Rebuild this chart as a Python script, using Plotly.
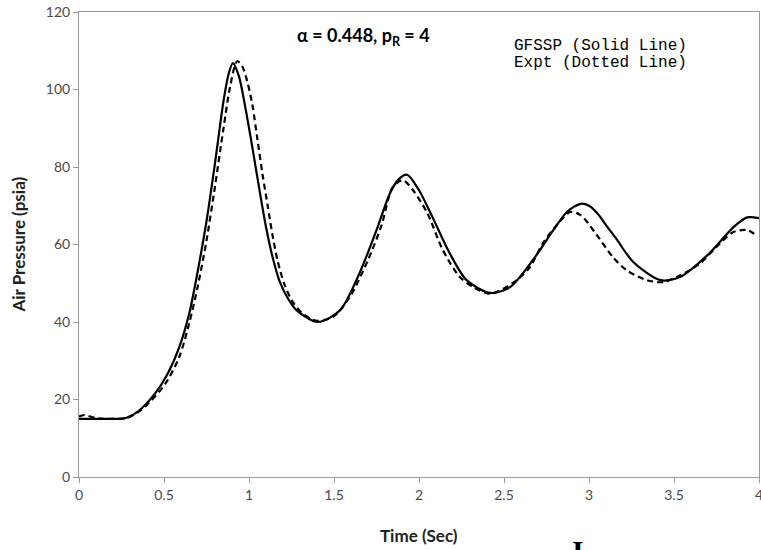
import plotly.graph_objects as go

# GFSSP (solid line)
t_gfssp = [0, 0.1, 0.2, 0.28, 0.35, 0.45, 0.52, 0.59, 0.65, 0.70, 0.75, 0.80, 0.85, 0.88,
           0.905, 0.94, 0.98, 1.02, 1.06, 1.10, 1.14, 1.18, 1.23, 1.28, 1.405, 1.535, 1.65,
           1.75, 1.83, 1.88, 1.93, 2.0, 2.08, 2.18, 2.28, 2.42, 2.535, 2.67, 2.79, 2.87,
           2.95, 3.0, 3.05, 3.1, 3.16, 3.26, 3.42, 3.535, 3.71, 3.85, 3.93, 4.0]
p_gfssp = [15, 15, 15, 15.3, 17, 21.7, 26.5, 33.5, 42.5, 53.5, 66, 81, 97, 104,
           106.8, 103.5, 95, 85, 74.5, 64.5, 56.5, 50.5, 46, 43, 40, 43, 52.6,
           63.7, 73.3, 76.8, 78, 74, 67, 57.8, 50.8, 47.5, 49, 56, 63.7, 68.4,
           70.5, 70, 68, 65, 61.5, 55.5, 50.8, 51.6, 57.8, 64.5, 67, 66.8]

# Experiment (dotted line)
t_expt = [0, 0.03, 0.1, 0.2, 0.28, 0.35, 0.42, 0.51, 0.59, 0.65, 0.70, 0.75, 0.80, 0.85,
          0.89, 0.93, 0.96, 0.99, 1.02, 1.05, 1.08, 1.11, 1.14, 1.17, 1.21, 1.26, 1.32,
          1.4, 1.5, 1.6, 1.7, 1.78, 1.845, 1.905, 1.965, 2.05, 2.14, 2.24, 2.32, 2.42,
          2.55, 2.65, 2.73, 2.82, 2.89, 2.95, 3.045, 3.14, 3.22, 3.34, 3.44, 3.535, 3.65,
          3.75, 3.85, 3.93, 3.99]
p_expt = [15.6, 16, 15.2, 15, 15.2, 16.8, 19.5, 24.2, 31, 40, 49.5, 61, 75, 90,
          101, 107.3, 106, 102, 96, 87, 78, 70, 62, 55.5, 49.5, 45, 42,
          40.3, 41.5, 47, 56, 65, 74.8, 76.6, 74, 68, 58.6, 51.6, 49, 47.3,
          50, 54, 60.4, 65.5, 68.4, 67.6, 62.5, 56.8, 53.4, 50.8, 50.3, 52, 55,
          59.4, 63.2, 63.7, 62.2]

x_ticks = [0, 0.5, 1, 1.5, 2, 2.5, 3, 3.5, 4]
x_tick_labels = ["0", "0.5", "1", "1.5", "2", "2.5", "3", "3.5", "4"]
y_ticks = [0, 20, 40, 60, 80, 100, 120]

fig = go.Figure()
fig.add_trace(go.Scatter(x=t_gfssp, y=p_gfssp, mode="lines", name="GFSSP",
                         line=dict(color="black", width=2.2, shape="spline", smoothing=0.8)))
fig.add_trace(go.Scatter(x=t_expt, y=p_expt, mode="lines", name="Expt",
                         line=dict(color="black", width=2.2, dash="6px,4px", shape="spline", smoothing=0.8)))

axis_common = dict(showgrid=False, zeroline=False, showline=True, linecolor="#9a9a9a",
                   linewidth=1, mirror=True, ticks="outside", ticklen=5, tickcolor="#9a9a9a",
                   automargin=False, ticklabeloverflow="allow",
                   tickfont=dict(family="Lato", size=14, color="#4a4a4a"))

fig.update_layout(
    width=761, height=550,
    margin=dict(l=79, r=2, t=12, b=73),
    paper_bgcolor="white", plot_bgcolor="white",
    showlegend=False,
    xaxis=dict(range=[0, 4], tickvals=x_ticks, ticktext=x_tick_labels, **axis_common),
    yaxis=dict(range=[0, 120], tickvals=y_ticks, **axis_common),
)

# helpers: pixel -> paper coordinate (plot area spans x 79..759, y 12..477)
def px(xp):
    return (xp - 79) / 680

def py(yp):
    return (477 - yp) / 465

annotations = [
    dict(text="<b>α = 0.448, p<sub>R</sub> = 4</b>", x=px(363), y=py(36), xanchor="center",
         yanchor="middle", font=dict(family="Lato", size=18, color="black")),
    dict(text="GFSSP (Solid Line)", x=px(512), y=py(46), xanchor="left", yanchor="middle",
         font=dict(family="Liberation Mono", size=16, color="black")),
    dict(text="Expt (Dotted Line)", x=px(512), y=py(63), xanchor="left", yanchor="middle",
         font=dict(family="Liberation Mono", size=16, color="black")),
    dict(text="<b>Time (Sec)</b>", x=0.5, y=py(535), xanchor="center", yanchor="middle",
         font=dict(family="Lato", size=17, color="#222222")),
    dict(text="<b>Air Pressure (psia)</b>", x=px(18), y=0.5, xanchor="center", yanchor="middle",
         textangle=-90, font=dict(family="Lato", size=17, color="#222222")),
    dict(text="<b>I</b>", x=px(578), y=py(532), xanchor="center", yanchor="top",
         font=dict(family="Liberation Serif", size=30, color="black")),
]
for a in annotations:
    a.update(xref="paper", yref="paper", showarrow=False)
fig.update_layout(annotations=annotations)

fig.write_html("out.html", config={"displayModeBar": False},
               post_script="document.body.style.margin='0';")
